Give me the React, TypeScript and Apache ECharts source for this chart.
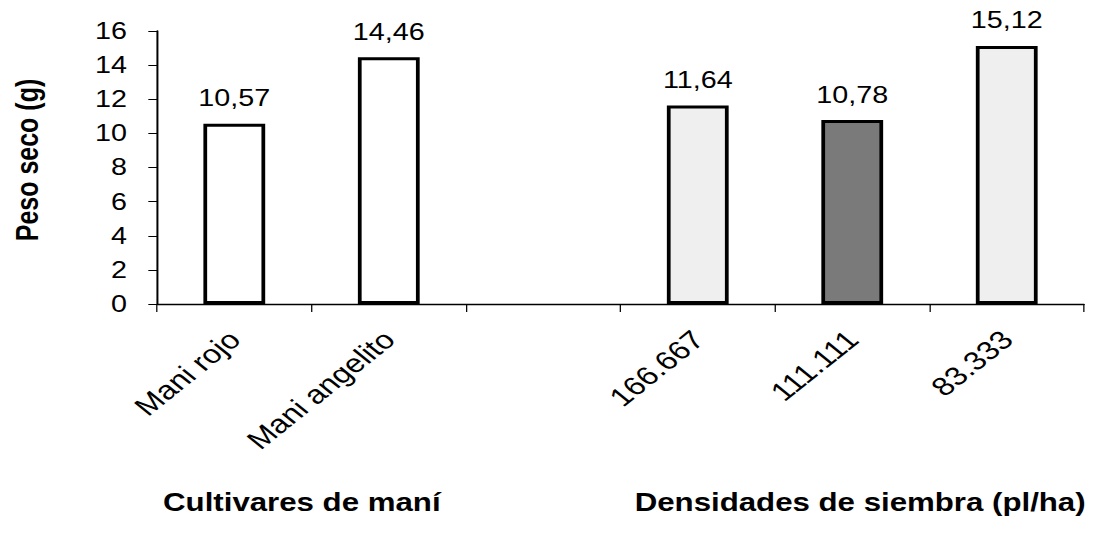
import React, { useEffect, useRef } from "react";
import * as echarts from "echarts";

// Dry weight per treatment (g); the empty slot separates the two groups
const categories = ["Mani rojo", "Mani angelito", "", "166.667", "111.111", "83.333"];
const pesoSeco: (number | null)[] = [10.57, 14.46, null, 11.64, 10.78, 15.12];
const barFills = ["#ffffff", "#ffffff", "#ffffff", "#efefef", "#7a7a7a", "#efefef"];
const yMin = 0;
const yMax = 16;
const yStep = 2;
const yAxisTitle = "Peso seco (g)";
const groupTitles = ["Cultivares de maní", "Densidades de siembra (pl/ha)"];

const FONT = "'Liberation Sans', Arial, sans-serif";
const STRETCH = 1.2494; // horizontal scale of the drawing
const W = 886;
const H = 535;

export default function App() {
  const ref = useRef<HTMLDivElement>(null);

  useEffect(() => {
    if (!ref.current) return;
    const chart = echarts.init(ref.current, null, { renderer: "svg" });
    chart.setOption({
      animation: false,
      backgroundColor: "#ffffff",
      grid: { left: 125.7, right: 18.4, top: 31, bottom: 231, containLabel: false },
      xAxis: {
        type: "category",
        data: categories,
        axisLine: { lineStyle: { color: "#000", width: 1.3 } },
        axisTick: { show: true, length: 8, lineStyle: { color: "#000", width: 1 } },
        axisLabel: {
          rotate: 45,
          interval: 0,
          margin: 31,
          color: "#000",
          fontFamily: FONT,
          fontSize: 26,
        },
        splitLine: { show: false },
      },
      yAxis: {
        type: "value",
        min: yMin,
        max: yMax,
        interval: yStep,
        axisLine: { show: true, lineStyle: { color: "#000", width: 1.6 } },
        axisTick: { show: true, length: 7, lineStyle: { color: "#000", width: 1 } },
        axisLabel: { margin: 24, color: "#000", fontFamily: FONT, fontSize: 23 },
        splitLine: { show: false },
      },
      series: [
        {
          type: "bar",
          barWidth: "40%",
          data: pesoSeco.map((v, i) => ({
            value: v,
            itemStyle: { color: barFills[i], borderColor: "#000", borderWidth: 3 },
          })),
          label: {
            show: true,
            position: "top",
            distance: 14,
            color: "#000",
            fontFamily: FONT,
            fontSize: 23,
            formatter: (p: any) => (p.value == null ? "" : Number(p.value).toFixed(2).replace(".", ",")),
          },
        },
      ],
      graphic: [
        {
          type: "text",
          x: 21.6,
          y: 160,
          rotation: Math.PI / 2,
          style: {
            text: yAxisTitle,
            fill: "#000",
            font: `bold 25px ${FONT}`,
            textAlign: "center",
            textVerticalAlign: "middle",
          },
        },
        {
          type: "text",
          x: 130.5,
          y: 502,
          style: {
            text: groupTitles[0],
            fill: "#000",
            font: `bold 25px ${FONT}`,
            textAlign: "left",
            textVerticalAlign: "middle",
          },
        },
        {
          type: "text",
          x: 508,
          y: 502,
          style: {
            text: groupTitles[1],
            fill: "#000",
            font: `bold 25px ${FONT}`,
            textAlign: "left",
            textVerticalAlign: "middle",
          },
        },
      ],
    });
    return () => chart.dispose();
  }, []);

  return (
    <div
      style={{
        position: "absolute",
        left: 0,
        top: 0,
        width: W * STRETCH,
        height: H,
        overflow: "hidden",
        background: "#fff",
      }}
    >
      <div
        ref={ref}
        style={{
          width: W,
          height: H,
          transform: `scaleX(${STRETCH})`,
          transformOrigin: "0 0",
        }}
      />
    </div>
  );
}
